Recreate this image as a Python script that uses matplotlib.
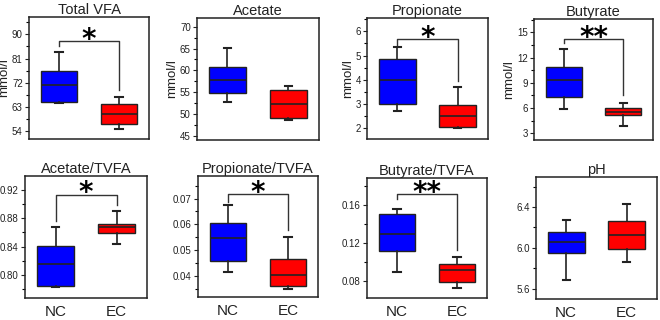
import matplotlib
matplotlib.use("Agg")
import matplotlib.pyplot as plt
from matplotlib.ticker import MultipleLocator, AutoMinorLocator, FormatStrFormatter

# panel titles and group names
titles = ["Total VFA", "Acetate", "Propionate", "Butyrate",
          "Acetate/TVFA", "Propionate/TVFA", "Butyrate/TVFA", "pH"]
groups = ["NC", "EC"]

# box stats per panel: [whislo, q1, med, q3, whishi] for NC and EC
nc_stats = [
    [64.4, 64.8, 71.2, 76.4, 83.3],
    [52.8, 54.9, 57.7, 60.85, 65.2],
    [2.72, 3.0, 3.98, 4.86, 5.34],
    [5.86, 7.28, 9.3, 10.84, 13.0],
    [0.783, 0.785, 0.816, 0.841, 0.868],
    [0.0417, 0.0458, 0.0546, 0.0605, 0.0675],
    [0.0904, 0.1123, 0.1294, 0.1506, 0.1558],
    [5.688, 5.95, 6.057, 6.158, 6.269],
]
ec_stats = [
    [54.9, 56.7, 60.4, 64.0, 66.7],
    [48.6, 49.1, 52.2, 55.4, 56.4],
    [2.0, 2.04, 2.5, 2.96, 3.7],
    [3.9, 5.18, 5.57, 6.05, 6.64],
    [0.844, 0.859, 0.867, 0.872, 0.890],
    [0.035, 0.0363, 0.0404, 0.0466, 0.0552],
    [0.0731, 0.0793, 0.0922, 0.0988, 0.106],
    [5.861, 5.989, 6.129, 6.259, 6.43],
]

# significance marks: (label, bracket y, left drop y, right drop y)
signif = [
    ("*", 87.4, 85.6, 69.2),
    None,
    ("*", 5.69, 5.45, 3.93),
    ("**", 14.2, 13.7, 7.6),
    ("*", 0.913, 0.876, 0.898),
    ("*", 0.0717, 0.0687, 0.0577),
    ("**", 0.1715, 0.167, 0.113),
    None,
]

ylims = [(51, 96.5), (44, 72), (1.55, 6.55), (2.2, 16.6),
         (0.768, 0.939), (0.032, 0.0787), (0.0627, 0.1885), (5.499, 6.694)]
ysteps = [9, 5, 1, 3, 0.04, 0.01, 0.04, 0.4]
yfmts = ["%d", "%d", "%d", "%d", "%.2f", "%.2f", "%.2f", "%.1f"]

# axes rectangles in pixels: left, top, right, bottom
W, H = 660, 320
rects_px = [(29, 17, 149, 139), (197, 18, 319, 140), (367, 18, 488, 139), (534, 19, 653, 140),
            (25, 176, 147, 298), (198, 176, 318, 297), (367, 178, 487, 298), (536, 177, 657, 299)]

plt.rcParams['font.family'] = ['Liberation Sans', 'DejaVu Sans']
fig = plt.figure(figsize=(W / 100, H / 100), dpi=100)
ink = "#222222"

for i in range(8):
    l, t, r, b = rects_px[i]
    ax = fig.add_axes([l / W, 1 - b / H, (r - l) / W, (b - t) / H])

    stats = []
    for vals in (nc_stats[i], ec_stats[i]):
        lo, q1, med, q3, hi = vals
        stats.append(dict(whislo=lo, q1=q1, med=med, q3=q3, whishi=hi, fliers=[]))
    bp = ax.bxp(stats, positions=[1, 2], widths=0.61, patch_artist=True,
                showfliers=False, capwidths=0.12,
                boxprops=dict(linewidth=1.0, edgecolor=ink),
                medianprops=dict(color=ink, linewidth=1.2),
                whiskerprops=dict(color=ink, linewidth=1.2),
                capprops=dict(color=ink, linewidth=1.5))
    bp["boxes"][0].set_facecolor("#0000ff")
    bp["boxes"][1].set_facecolor("#ff0000")

    ax.set_xlim(0.5, 2.5)
    ax.set_ylim(*ylims[i])
    ax.yaxis.set_major_locator(MultipleLocator(ysteps[i]))
    ax.yaxis.set_minor_locator(AutoMinorLocator(2))
    ax.yaxis.set_major_formatter(FormatStrFormatter(yfmts[i]))
    ax.tick_params(axis="y", labelsize=7, length=3, width=0.8, colors=ink, pad=1.5)
    ax.tick_params(axis="y", which="minor", length=2, width=0.8)
    ax.tick_params(axis="x", length=0)
    for s in ax.spines.values():
        s.set_linewidth(1.1)
        s.set_color(ink)

    ax.set_title(titles[i], fontsize=10.5, pad=2.5, color=ink)
    if i < 4:
        ax.set_xticks([])
        ax.set_ylabel("mmol/l", fontsize=9.5, labelpad=1, color=ink)
    else:
        ax.set_xticks([1, 2])
        ax.set_xticklabels(groups, fontsize=11, color=ink)
        ax.tick_params(axis="x", pad=5)

    sg = signif[i]
    if sg is not None:
        lab, yb, yl, yr = sg
        ax.plot([1, 1, 2, 2], [yl, yb, yb, yr], color="#333333", linewidth=1.0)
        ax.annotate(lab, xy=(1.5, yb), xytext=(0, -5), textcoords="offset points",
                    ha="center", va="baseline", fontsize=20, fontweight="bold",
                    family="DejaVu Sans")

fig.savefig("out.png", dpi=100)
